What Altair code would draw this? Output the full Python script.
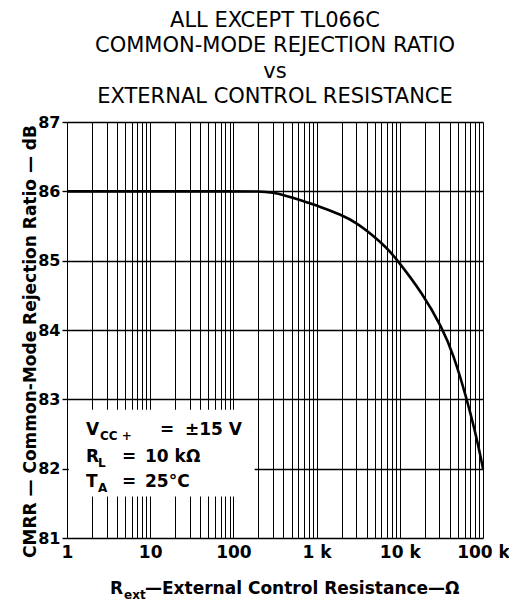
import altair as alt
import pandas as pd

# ---- data ----
r_ext = [1, 10, 100, 209, 302, 398, 577, 832, 1200, 1900, 3000, 4800, 6900, 9200,
         19000, 32000, 44000, 63000, 80000, 96000, 100000]
cmrr = [86.0, 86.0, 86.0, 86.0, 85.98, 85.95, 85.89, 85.83, 85.76, 85.67, 85.55, 85.36, 85.19, 85.02,
        84.52, 84.04, 83.65, 83.03, 82.55, 82.11, 82.0]

title_lines = ["ALL EXCEPT TL066C", "COMMON-MODE REJECTION RATIO", "vs", "EXTERNAL CONTROL RESISTANCE"]
x_decades = [1, 10, 100, 1000, 10000, 100000]
x_tick_labels = ["1", "10", "100", "1 k", "10 k", "100 k"]
y_ticks = [81, 82, 83, 84, 85, 86, 87]
y_title = "CMRR — Common-Mode Rejection Ratio — dB"
x_title_main = "R"
x_title_sub = "ext"
x_title_rest = "—External Control Resistance—Ω"
ann_main = ["V", "R", "T"]
ann_sub = ["CC +", "L", "A"]
ann_eq = ["=", "=", "="]
ann_val = ["±15 V", "10 kΩ", "25°C"]

FONT = "DejaVu Sans"

x_grid = [m * 10 ** k for k in range(5) for m in range(1, 10)] + [100000]
label_expr = ""
for v, t in zip(x_decades, x_tick_labels):
    label_expr += f"datum.value == {v} ? '{t}' : "
label_expr += "''"

xscale = alt.Scale(type="log", domain=[1, 100000], nice=False)
yscale = alt.Scale(domain=[81, 87], nice=False, zero=False)

xaxis = alt.Axis(values=x_grid, labelExpr=label_expr, title=None, grid=True,
                 gridColor="black", gridWidth=1, gridOpacity=1, ticks=False, domain=False,
                 labelFont=FONT, labelFontWeight="bold", labelFontSize=17, labelColor="black",
                 labelPadding=6, labelFlush=False, labelOverlap=False)
yaxis = alt.Axis(values=y_ticks, format="d", title=y_title, grid=True, gridColor="black", gridWidth=1.4,
                 gridOpacity=1, ticks=True, tickSize=5, tickColor="black", tickWidth=1.4, domain=False,
                 labelFont=FONT, labelFontWeight="bold", labelFontSize=16, labelColor="black",
                 labelPadding=2,
                 titleFont=FONT, titleFontWeight="bold", titleFontSize=17, titleColor="black",
                 titleX=-37, titleY=219, titleAngle=270, titleAlign="center", titleBaseline="middle")

curve_df = pd.DataFrame({"r": r_ext, "cmrr": cmrr})

curve = alt.Chart(curve_df).mark_line(color="black", strokeWidth=2.6, interpolate="basis").encode(
    x=alt.X("r:Q", scale=xscale, axis=xaxis),
    y=alt.Y("cmrr:Q", scale=yscale, axis=yaxis),
)

box_df = pd.DataFrame({"x": [1.05], "x2": [180], "y": [81.6], "y2": [82.85]})
box = alt.Chart(box_df).mark_rect(color="white").encode(
    x=alt.X("x:Q", scale=xscale), x2="x2:Q",
    y=alt.Y("y:Q", scale=yscale), y2="y2:Q",
)

layers = [box, curve]


def txt(t, x, y, size=17):
    return alt.Chart(pd.DataFrame({"t": [t]})).mark_text(
        font=FONT, fontWeight="bold", fontSize=size, align="left", baseline="alphabetic", color="black"
    ).encode(text="t:N", x=alt.value(x), y=alt.value(y))


# annotation block (pixel positions relative to plot area)
base_y = [313, 340, 365]
for i in range(3):
    layers.append(txt(ann_main[i], 19, base_y[i]))
    layers.append(txt(ann_sub[i], 33 if i == 0 else 31, base_y[i] + 5, 12))
    layers.append(txt(ann_eq[i], 93 if i == 0 else 55, base_y[i]))
    layers.append(txt(ann_val[i], 118 if i == 0 else 78, base_y[i]))

# x-axis title with subscript
layers.append(txt(x_title_main, 43, 472))
layers.append(txt(x_title_sub, 57, 477, 12))
layers.append(txt(x_title_rest, 78, 472))

chart = alt.layer(*layers).properties(
    width=416, height=416,
    autosize=alt.AutoSizeParams(type="none"),
    padding={"left": 59, "top": 114, "right": 26, "bottom": 64},
    title=alt.TitleParams(text=title_lines, font=FONT, fontSize=21, fontWeight="normal",
                          lineHeight=25.3, anchor="middle", frame="group", offset=7, color="black"),
).configure_view(stroke="black", strokeWidth=2).configure(background="white")

chart.save("out.html", embed_options={"renderer": "svg", "actions": False})
